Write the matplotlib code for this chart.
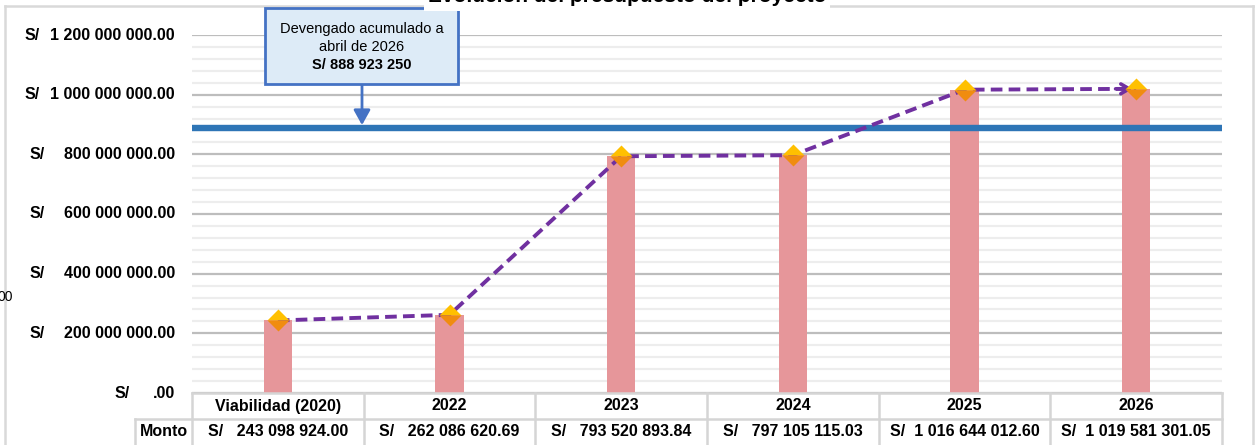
import matplotlib
matplotlib.use("Agg")
import matplotlib.pyplot as plt
from matplotlib.patches import Rectangle
from matplotlib.lines import Line2D
from matplotlib import font_manager as fm

# ---------------- data ----------------
categories = ["Viabilidad (2020)", "2022", "2023", "2024", "2025", "2026"]
montos = [243098924.00, 262086620.69, 793520893.84, 797105115.03,
          1016644012.60, 1019581301.05]
devengado = 888923250
devengado_label = ["Devengado acumulado a", "abril de 2026", "S/ 888 923 250"]
y_ticks = [0, 200e6, 400e6, 600e6, 800e6, 1000e6, 1200e6]
title = "Evolución del presupuesto del proyecto"
row_label = "Monto"

# ---------------- fonts ----------------
names = {f.name for f in fm.fontManager.ttflist}
narrow = "Liberation Sans Narrow" if "Liberation Sans Narrow" in names else "Liberation Sans"
plt.rcParams["font.family"] = [narrow, "DejaVu Sans"]

W, H = 1260, 445
fig = plt.figure(figsize=(W / 100, H / 100), dpi=100)

def fx(px):
    return px / W

def fy(py):
    return 1 - py / H

ax_l, ax_r, ax_t, ax_b = 192, 1222, 35, 393
ax = fig.add_axes([fx(ax_l), fy(ax_b), fx(ax_r - ax_l), fy(ax_t) - fy(ax_b)])
ax.set_xlim(-0.5, len(categories) - 0.5)
ax.set_ylim(0, 1.2e9)

# gridlines
for v in range(0, 1200, 40):
    val = v * 1e6
    if v % 200 == 0:
        continue
    ax.axhline(val, color="#EDEDED", lw=1.6, zorder=0)
for t in y_ticks:
    ax.axhline(t, color="#BDBDBD", lw=1.6, zorder=0.5)

for s in ax.spines.values():
    s.set_visible(False)
ax.set_xticks([])
ax.set_yticks([])

x = list(range(len(categories)))
ax.bar(x, montos, width=0.165, color="#E6969A", zorder=2)

# blue horizontal line
ax.axhline(devengado, color="#2E75B6", lw=4.6, zorder=3)

# dashed purple line with markers
ax.plot(x, montos, color="#7030A0", lw=2.8, dashes=(3.0, 1.6), zorder=4)
ax.annotate("", xy=(x[-1] - 0.02, montos[-1]), xytext=(x[-1] - 0.12, montos[-1]),
            arrowprops=dict(arrowstyle="->,head_length=0.6,head_width=0.35",
                            color="#7030A0", lw=2.6, shrinkA=0, shrinkB=0),
            zorder=4)
ax.plot(x, montos, linestyle="none", marker="D", markersize=11,
        fillstyle="top", markerfacecolor="#FFC000", markerfacecoloralt="#F08C10",
        markeredgecolor="none", zorder=5)

# y tick labels
for t in y_ticks:
    num = f"{t:,.2f}".replace(",", " ")
    if t == 0:
        num = ".00"
    ypix = ax.transData.transform((0, t))[1]
    fig.text(fx(175), ypix / H, num, ha="right", va="center",
             fontsize=11.5, fontweight="bold")
    if t == 0:
        sx = 130
    elif t >= 1e9:
        sx = 40
    else:
        sx = 45
    fig.text(fx(sx), ypix / H, "S/", ha="right", va="center",
             fontsize=11.5, fontweight="bold")

# annotation box
bx0, bx1, by0, by1 = 265, 458, 8, 84
fig.patches.append(Rectangle((fx(bx0), fy(by1)), fx(bx1 - bx0), fy(by0) - fy(by1),
                             transform=fig.transFigure, facecolor="#DDEBF7",
                             edgecolor="#4472C4", lw=2.0, zorder=10))
cxb = (bx0 + bx1) / 2
fig.text(fx(cxb), fy(29), devengado_label[0], ha="center", va="center",
         fontsize=10.5, zorder=11)
fig.text(fx(cxb), fy(47), devengado_label[1], ha="center", va="center",
         fontsize=10.5, zorder=11)
fig.text(fx(cxb), fy(65), devengado_label[2], ha="center", va="center",
         fontsize=10.5, fontweight="bold", zorder=11)
arrow_x = (362 - ax_l) / (ax_r - ax_l) * len(categories) - 0.5
ax.annotate("", xy=(arrow_x, devengado + 9e6), xycoords="data",
            xytext=(fx(362), fy(by1)), textcoords="figure fraction",
            arrowprops=dict(arrowstyle="-|>,head_length=0.9,head_width=0.5",
                            color="#4472C4", lw=2.0, shrinkA=0, shrinkB=0),
            annotation_clip=False, zorder=6)

# outer frame
fr = "#D9D9D9"
fig.add_artist(Line2D([fx(5), fx(5)], [fy(6), 0], transform=fig.transFigure, color=fr, lw=1.8))
fig.add_artist(Line2D([fx(5), fx(1253)], [fy(6), fy(6)], transform=fig.transFigure, color=fr, lw=1.8))
fig.add_artist(Line2D([fx(1253), fx(1253)], [fy(6), 0], transform=fig.transFigure, color=fr, lw=1.8))

# title (cut off at top)
fig.text(fx(627), fy(2.5), title, ha="center", va="baseline", fontsize=15,
         fontweight="bold", family=["Liberation Sans", "DejaVu Sans"],
         bbox=dict(facecolor="white", edgecolor="none", pad=3), zorder=12)

# stray label at the left
fig.text(fx(-2), fy(297), "00", ha="left", va="center", fontsize=10,
         family=["Liberation Sans", "DejaVu Sans"])

# data table
tc = "#D5D5D5"
cw = (ax_r - ax_l) / len(categories)
r0, r1, r2 = 393, 419, 447
fig.add_artist(Line2D([fx(ax_l), fx(ax_r)], [fy(r0), fy(r0)], transform=fig.transFigure, color=tc, lw=1.8))
fig.add_artist(Line2D([fx(135), fx(ax_r)], [fy(r1), fy(r1)], transform=fig.transFigure, color=tc, lw=1.8))
for i in range(len(categories) + 1):
    xp = ax_l + i * cw
    fig.add_artist(Line2D([fx(xp), fx(xp)], [fy(r0), fy(r2)], transform=fig.transFigure, color=tc, lw=1.8))
fig.add_artist(Line2D([fx(135), fx(135)], [fy(r1), fy(r2)], transform=fig.transFigure, color=tc, lw=1.8))
fig.text(fx((135 + ax_l) / 2), fy((r1 + r2) / 2 - 1), row_label, ha="center", va="center",
         fontsize=11.5, fontweight="bold")
for i, (c, v) in enumerate(zip(categories, montos)):
    cx = ax_l + (i + 0.5) * cw
    fig.text(fx(cx), fy((r0 + r1) / 2), c, ha="center", va="center",
             fontsize=11.5, fontweight="bold")
    num = f"{v:,.2f}".replace(",", " ")
    sp = "  " if v >= 1e9 else "   "
    fig.text(fx(cx), fy((r1 + r2) / 2 - 1), "S/" + sp + num, ha="center", va="center",
             fontsize=11.5, fontweight="bold")

fig.savefig("out.png", dpi=100)
